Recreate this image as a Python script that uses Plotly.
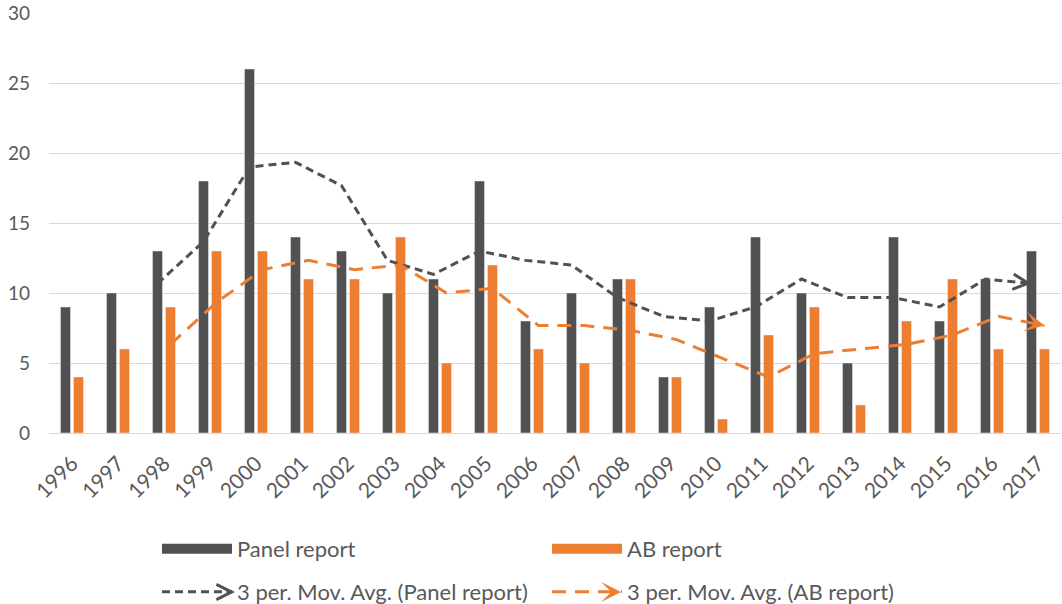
import plotly.graph_objects as go

years = ["1996", "1997", "1998", "1999", "2000", "2001", "2002", "2003", "2004", "2005", "2006",
         "2007", "2008", "2009", "2010", "2011", "2012", "2013", "2014", "2015", "2016", "2017"]
panel = [9, 10, 13, 18, 26, 14, 13, 10, 11, 18, 8, 10, 11, 4, 9, 14, 10, 5, 14, 8, 11, 13]
ab = [4, 6, 9, 13, 13, 11, 11, 14, 5, 12, 6, 5, 11, 4, 1, 7, 9, 2, 8, 11, 6, 6]
panel_ma = [None, None, 10.67, 13.67, 19.0, 19.33, 17.67, 12.33, 11.33, 13.0, 12.33, 12.0,
            9.67, 8.33, 8.0, 9.0, 11.0, 9.67, 9.67, 9.0, 11.0, 10.67]
ab_ma = [None, None, 6.33, 9.33, 11.67, 12.33, 11.67, 12.0, 10.0, 10.33, 7.67, 7.67,
         7.33, 6.67, 5.33, 4.0, 5.67, 6.0, 6.33, 7.0, 8.33, 7.67]

C_PANEL = "#515151"
C_AB = "#ED7D31"
TXT = "#595959"
FONT = "Lato"
W, H = 1062, 604
ML, MR, MT, MB = 49, 1, 13, 171
YMAX = 30

idx = list(range(len(years)))
n = len(years)
BARGAP = 0.435
off = (1 - BARGAP) / 4  # bar centre offset within a category
PANEL_DASH = "8px,5px"
AB_DASH = "14px,9px"

fig = go.Figure()
fig.add_trace(go.Bar(x=idx, y=panel, name="Panel report", marker_color=C_PANEL, showlegend=False))
fig.add_trace(go.Bar(x=idx, y=ab, name="AB report", marker_color=C_AB, showlegend=False))

pw = W - ML - MR
ph = H - MT - MB
px_x = pw / n
px_y = ph / YMAX


def add_ma(xs, ys, color, dash, head, size):
    fig.add_trace(go.Scatter(x=xs, y=ys, mode="lines", line=dict(color=color, width=3, dash=dash),
                             showlegend=False, hoverinfo="skip"))
    # arrow head at the end of the line, pointing along the last segment
    dx = (xs[-1] - xs[-2]) * px_x
    dy = (ys[-1] - ys[-2]) * px_y
    L = (dx ** 2 + dy ** 2) ** 0.5
    tail = 10
    fig.add_annotation(x=xs[-1], y=ys[-1], xref="x", yref="y", text="", showarrow=True,
                       ax=-dx / L * tail, ay=dy / L * tail, arrowhead=head, arrowsize=size,
                       arrowwidth=3, arrowcolor=color, standoff=0, startstandoff=0)


add_ma([i - off for i in idx], panel_ma, C_PANEL, PANEL_DASH, 5, 1.0)
add_ma([i + off for i in idx], ab_ma, C_AB, AB_DASH, 3, 1.1)

# legend entries
fig.add_trace(go.Scatter(x=[None], y=[None], mode="lines", name="Panel report",
                         line=dict(color=C_PANEL, width=10), legend="legend"))
fig.add_trace(go.Scatter(x=[None], y=[None], mode="lines", name="AB report",
                         line=dict(color=C_AB, width=10), legend="legend"))
fig.add_trace(go.Scatter(x=[None], y=[None], mode="lines", name="3 per. Mov. Avg. (Panel report)",
                         line=dict(color=C_PANEL, width=3, dash=PANEL_DASH), legend="legend2"))
fig.add_trace(go.Scatter(x=[None], y=[None], mode="lines", name="3 per. Mov. Avg. (AB report)",
                         line=dict(color=C_AB, width=3, dash=AB_DASH), legend="legend2"))

LEG_X = 157
ROW1_Y, ROW2_Y = 549, 592
leg_common = dict(orientation="h", xanchor="left", yanchor="middle", xref="container",
                  yref="container", entrywidth=305, itemwidth=70,
                  font=dict(family=FONT, size=22, color=TXT),
                  bgcolor="rgba(0,0,0,0)", itemclick=False, itemdoubleclick=False)

# arrow heads on the legend's moving-average samples
for tip_px, color, head, size in [(235, C_PANEL, 5, 1.0), (621, C_AB, 3, 1.1)]:
    fig.add_annotation(x=(tip_px - ML) / pw, y=(MT + ph - ROW2_Y) / ph, xref="paper", yref="paper",
                       text="", showarrow=True, ax=-10, ay=0, arrowhead=head, arrowsize=size,
                       arrowwidth=3, arrowcolor=color, standoff=0, startstandoff=0)

fig.update_layout(
    width=W, height=H,
    margin=dict(l=ML, r=MR, t=MT, b=MB, autoexpand=False),
    paper_bgcolor="white", plot_bgcolor="white",
    barmode="group", bargap=BARGAP, bargroupgap=0.23,
    font=dict(family=FONT, size=19, color=TXT),
    xaxis=dict(range=[-0.5, n - 0.5], tickmode="array", tickvals=idx, ticktext=years,
               tickangle=-45, showgrid=False, zeroline=False, showline=True,
               linecolor="#d9d9d9", linewidth=1, ticks="", automargin=False,
               ticklabelstandoff=9,
               tickfont=dict(family=FONT, size=21, color=TXT)),
    yaxis=dict(range=[0, YMAX], dtick=5, showgrid=True, gridcolor="#d9d9d9", gridwidth=1,
               zeroline=False, showline=False, ticks="", automargin=False,
               ticklabelstandoff=18,
               tickfont=dict(family=FONT, size=19, color=TXT)),
    legend=dict(x=LEG_X / W, y=1 - ROW1_Y / H, **leg_common),
    legend2=dict(x=LEG_X / W, y=1 - ROW2_Y / H, **leg_common),
)

fig.write_html("out.html")
